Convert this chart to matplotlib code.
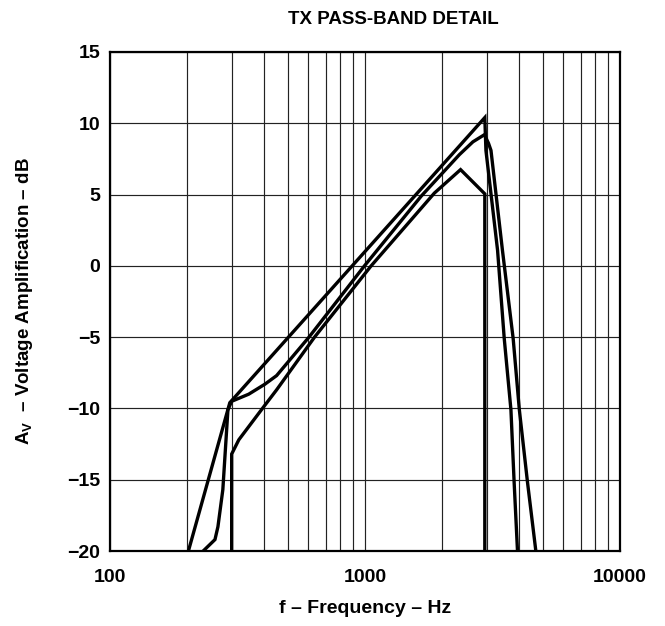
import matplotlib
matplotlib.use("Agg")
import matplotlib.pyplot as plt
from matplotlib.ticker import FixedLocator, NullFormatter, LogLocator

plt.rcParams['font.family'] = ['Liberation Sans', 'DejaVu Sans']
plt.rcParams['font.weight'] = 'bold'
plt.rcParams['mathtext.fontset'] = 'custom'
plt.rcParams['mathtext.rm'] = 'Liberation Sans:bold'
plt.rcParams['mathtext.bf'] = 'Liberation Sans:bold'
plt.rcParams['mathtext.it'] = 'Liberation Sans:bold'

# Curve A (top, sharp peak)
freq_a = [203, 295, 2950, 2980, 3310, 3516, 3735, 3845, 3963]
gain_a = [-20, -9.6, 10.4, 8.1, 1.1, -5.1, -10.1, -15.2, -20]

# Curve B (middle, rounded peak)
freq_b = [232, 258, 265, 277, 290, 300, 350, 405, 450, 603, 995, 1663, 2345,
          2650, 2940, 3050, 3119, 3459, 3811, 4030, 4339, 4677]
gain_b = [-20, -19.2, -18.3, -15.7, -10.1, -9.5, -9.0, -8.3, -7.7, -5.0, 0.0,
          4.9, 7.8, 8.7, 9.2, 8.6, 8.1, 1.1, -5.1, -10.1, -15.2, -20]

# Curve C (bottom, hard edges)
freq_c = [300, 300, 320, 400, 450, 634, 1057, 1870, 2370, 2950, 2950]
gain_c = [-20, -13.2, -12.2, -9.9, -8.7, -5.0, 0.0, 5.1, 6.75, 5.05, -20]

y_ticks = [15, 10, 5, 0, -5, -10, -15, -20]
y_tick_labels = ['15', '10', '5', '0', '\u22125', '\u221210', '\u221215', '\u221220']
x_ticks = [100, 1000, 10000]
x_tick_labels = ['100', '1000', '10000']

fig = plt.figure(figsize=(6.65, 6.26), dpi=100)
ax = fig.add_axes([110/665, 1-551/626, 510/665, 499/626])

for f, g in [(freq_a, gain_a), (freq_b, gain_b), (freq_c, gain_c)]:
    ax.plot(f, g, color='black', lw=2.4, solid_joinstyle='miter', zorder=3)

ax.set_xscale('log')
ax.set_xlim(100, 10000)
ax.set_ylim(-20, 15)
ax.xaxis.set_major_locator(FixedLocator(x_ticks))
ax.set_xticklabels(x_tick_labels)
ax.xaxis.set_minor_locator(LogLocator(base=10, subs=range(2, 10)))
ax.xaxis.set_minor_formatter(NullFormatter())
ax.set_yticks(y_ticks)
ax.set_yticklabels(y_tick_labels)

ax.grid(True, which='both', axis='x', color='#222222', lw=0.85)
ax.grid(True, which='major', axis='y', color='#222222', lw=0.85)
ax.tick_params(which='both', length=0)
ax.tick_params(axis='x', pad=13, labelsize=14)
ax.tick_params(axis='y', pad=7, labelsize=14)
for s in ax.spines.values():
    s.set_linewidth(1.6)

ax.set_xlabel('f \u2013 Frequency \u2013 Hz', fontsize=14, fontweight='bold')
ax.xaxis.set_label_coords(0.5, -0.098)
ax.set_ylabel('A$_\\mathrm{V}$  \u2013 Voltage Amplification \u2013 dB', fontsize=13.5,
              fontweight='bold')
ax.yaxis.set_label_coords(-0.147, 0.5)
fig.text(393/665, 1-20/626, 'TX PASS-BAND DETAIL', ha='center', va='center',
         fontsize=13.5, fontweight='bold')

fig.savefig('out.png', dpi=100)
